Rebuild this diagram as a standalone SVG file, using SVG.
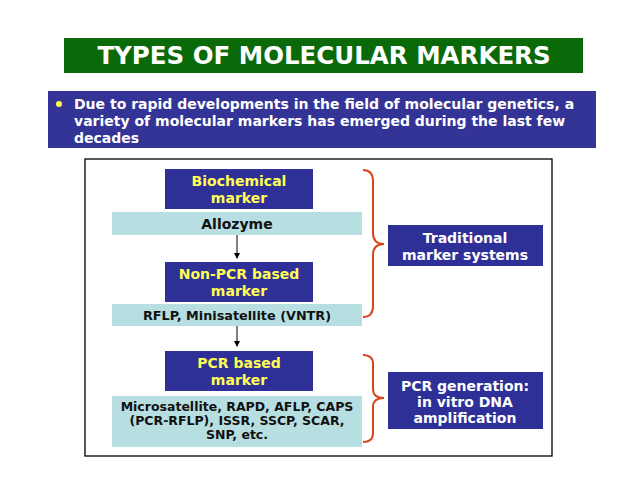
<svg xmlns="http://www.w3.org/2000/svg" width="638" height="479" viewBox="0 0 638 479">
<defs>
<style>
.t{font-family:"DejaVu Sans","Liberation Sans",sans-serif;font-weight:bold;text-anchor:middle}
.dk{fill:#2f2f98}
.lt{fill:#b7dfe2}
.y{fill:#ffff55;font-size:14px}
.w{fill:#ffffff;font-size:14px}
.k{fill:#111111}
.br{fill:none;stroke:#d5481e;stroke-width:2}
.ar{stroke:#000;stroke-width:1;fill:none}
</style>
<marker id="ah" markerWidth="6" markerHeight="6" refX="5" refY="3" orient="auto" markerUnits="userSpaceOnUse">
<path d="M0,0 L6,3 L0,6 z" fill="#000"/>
</marker>
</defs>
<rect width="638" height="479" fill="#ffffff"/>
<g id="title">
<rect x="64" y="38" width="519" height="35" fill="#0a6a0a"/>
<text class="t" x="324" y="64" fill="#ffffff" font-size="24.5">TYPES OF MOLECULAR MARKERS</text>
</g>
<g id="intro">
<rect x="48" y="91" width="548" height="57" fill="#343496"/>
<circle cx="59" cy="104" r="3" fill="#ffff44"/>
<text class="t" fill="#ffffff" font-size="14" style="text-anchor:start">
<tspan x="74" y="109">Due to rapid developments in the field of molecular genetics, a</tspan>
<tspan x="74" y="126">variety of molecular markers has emerged during the last few</tspan>
<tspan x="74" y="143">decades</tspan>
</text>
</g>
<g id="frame">
<rect x="85" y="159" width="467" height="297" fill="none" stroke="#000" stroke-width="1.3"/>
</g>
<g id="biochemical">
<rect class="dk" x="165" y="169" width="148" height="40"/>
<text class="t y"><tspan x="239" y="186">Biochemical</tspan><tspan x="239" y="203">marker</tspan></text>
</g>
<g id="allozyme">
<rect class="lt" x="112" y="212" width="250" height="23"/>
<text class="t k" x="237" y="229" font-size="14">Allozyme</text>
</g>
<g id="nonpcr">
<rect class="dk" x="165" y="262" width="148" height="40"/>
<text class="t y"><tspan x="239" y="279">Non-PCR based</tspan><tspan x="239" y="296">marker</tspan></text>
</g>
<g id="rflp">
<rect class="lt" x="112" y="304" width="250" height="22"/>
<text class="t k" x="237" y="320" font-size="12.8">RFLP, Minisatellite (VNTR)</text>
</g>
<g id="pcr">
<rect class="dk" x="165" y="351" width="148" height="40"/>
<text class="t y"><tspan x="239" y="368">PCR based</tspan><tspan x="239" y="385">marker</tspan></text>
</g>
<g id="microsat">
<rect class="lt" x="112" y="396" width="250" height="51"/>
<text class="t k" font-size="12.5"><tspan x="237" y="411">Microsatellite, RAPD, AFLP, CAPS</tspan><tspan x="237" y="425">(PCR-RFLP), ISSR, SSCP, SCAR,</tspan><tspan x="237" y="439">SNP, etc.</tspan></text>
</g>
<g id="traditional">
<rect class="dk" x="388" y="225" width="155" height="41"/>
<text class="t w"><tspan x="465" y="243">Traditional</tspan><tspan x="465" y="260">marker systems</tspan></text>
</g>
<g id="pcrgen">
<rect class="dk" x="388" y="372" width="155" height="57"/>
<text class="t w"><tspan x="465" y="391">PCR generation:</tspan><tspan x="465" y="407">in vitro DNA</tspan><tspan x="465" y="423">amplification</tspan></text>
</g>
<g id="connectors">
<line class="ar" x1="237" y1="235" x2="237" y2="258" marker-end="url(#ah)"/>
<line class="ar" x1="237" y1="326" x2="237" y2="346" marker-end="url(#ah)"/>
<path class="br" d="M363 170 Q373 170 373 181 L373 233 Q373 244 384 244 Q373 244 373 255 L373 306 Q373 317 363 317"/>
<path class="br" d="M363 355 Q373 355 373 364 L373 389 Q373 398 384 398 Q373 398 373 407 L373 433 Q373 442 363 442"/>
</g>
</svg>
